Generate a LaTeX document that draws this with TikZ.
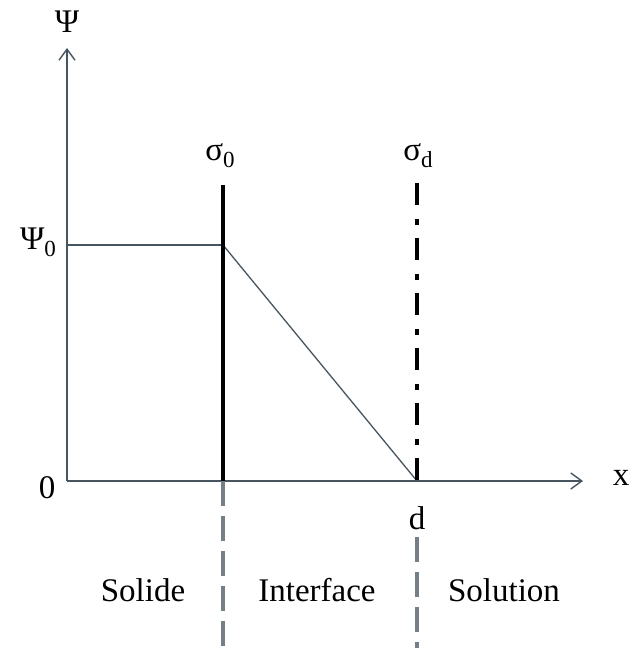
\documentclass[tikz,border=0pt]{standalone}
\usepackage{fontspec}
\setmainfont{Liberation Serif}
\usetikzlibrary{arrows.meta}
\definecolor{axisgray}{RGB}{70,85,95}
\definecolor{cutgray}{RGB}{115,128,138}
\newcommand{\lowidx}[1]{\raisebox{-0.45ex}{\fontsize{23}{23}\selectfont #1}}

\begin{document}
\begin{tikzpicture}[x=1pt,y=-1pt,axis/.style={line width=1.4pt,draw=axisgray,-{Straight Barb[length=11pt,width=16pt]}},thin line/.style={line width=1.3pt,draw=axisgray},plane/.style={line width=4.5pt,draw=black},diffuse/.style={line width=4.5pt,draw=black,dash pattern=on 22pt off 14pt on 6pt off 13pt},cut/.style={line width=3.5pt,draw=cutgray,dash pattern=on 25pt off 10pt},lbl/.style={font=\fontsize{33}{36}\selectfont,inner sep=0pt}]
\useasboundingbox (0,0) rectangle (631,655);
\coordinate (O) at (67,481);
\coordinate (Ytip) at (67,48);
\coordinate (Xtip) at (583,481);
\coordinate (S0top) at (223,185);
\coordinate (S0) at (223,481);
\coordinate (P0) at (223,245);
\coordinate (Y0) at (67,245);
\coordinate (SDtop) at (417,183);
\coordinate (SD) at (417,481);
\coordinate (S0end) at (223,648);
\coordinate (SDcut) at (417,537);
\coordinate (SDend) at (417,648);
\draw[axis] (O) -- (Ytip);
\draw[axis] (O) -- (Xtip);
\draw[thin line] (Y0) -- (P0);
\draw[thin line] (P0) -- (SD);
\draw[plane] (S0top) -- (S0);
\draw[diffuse] (SDtop) -- (SD);
\draw[cut] (S0) -- (S0end);
\draw[cut] (SDcut) -- (SDend);
\node[lbl] (psi) at (67,22) {Ψ};
\node[lbl] (psi0) at (38,242) {Ψ\lowidx{0}};
\node[lbl] (zero) at (47,488) {0};
\node[lbl] (xlbl) at (621,478) {x};
\node[lbl] (sigma0) at (220,156) {σ\lowidx{0}};
\node[lbl] (sigmad) at (418,156) {σ\lowidx{d}};
\node[lbl] (dlbl) at (417,518) {d};
\node[lbl] (solide) at (143,590) {Solide};
\node[lbl] (interface) at (317,590) {Interface};
\node[lbl] (solution) at (504,590) {Solution};
\end{tikzpicture}
\end{document}
